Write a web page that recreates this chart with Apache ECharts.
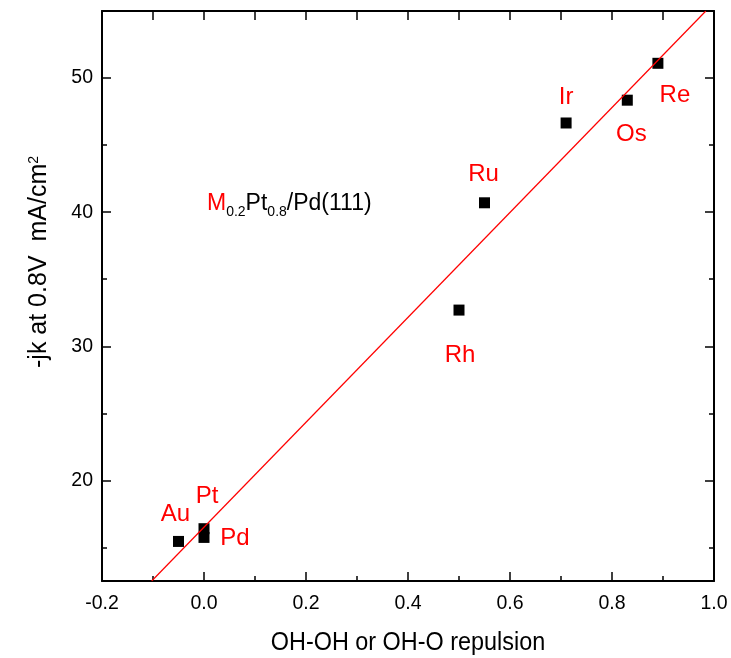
<!DOCTYPE html>
<html><head><meta charset="utf-8">
<script src="https://cdn.jsdelivr.net/npm/echarts@6/dist/echarts.min.js"></script>
<style>html,body{margin:0;padding:0;background:#fff}#c{width:731px;height:658px}</style>
</head><body><div id="c"></div>
<script>
// Data
const metals = ['Au', 'Pt', 'Pd', 'Rh', 'Ru', 'Ir', 'Os', 'Re'];
const repulsion = [-0.05, 0.0, 0.0, 0.50, 0.55, 0.71, 0.83, 0.89];
const currentJk = [15.45, 16.4, 15.75, 32.7, 40.7, 46.65, 48.35, 51.1];
const fitX = [-0.1026, 0.984];
const fitY = [12.5, 55.0];
const yMajorTicks = [20, 30, 40, 50];
const yMinorTicks = [15, 25, 35, 45];

// label placement (style, not data)
const labelOffsets = [[-3,-27],[3,-32],[31,1],[1,45],[-1,-28],[0,-26],[4,34],[17,32]];

const font = '"Liberation Sans",Arial,sans-serif';

const chart = echarts.init(document.getElementById('c'));
const yBase = {type:'value', min:12.5, max:55, splitLine:{show:false}};
const xBase = {type:'value', min:-0.2, max:1.0, splitLine:{show:false}};
const line = {show:true, onZero:false, lineStyle:{color:'#000', width:2}};
const noLine = {show:false, onZero:false};

chart.setOption({
  animation:false,
  backgroundColor:'#fff',
  grid:{left:102, right:17, top:11, bottom:77, containLabel:false},
  xAxis:[
    Object.assign({}, xBase, {position:'bottom', interval:0.2,
      axisLine:line,
      axisTick:{inside:true, length:9, lineStyle:{color:'#000', width:1.5}},
      minorTick:{show:true, splitNumber:2, length:5, lineStyle:{color:'#000', width:1.5}},
      axisLabel:{color:'#000', fontFamily:font, fontSize:19.5, margin:13,
        formatter:v=>v.toFixed(1)}}),
    Object.assign({}, xBase, {position:'top', interval:0.1,
      axisLine:line,
      axisTick:{inside:true, length:9, lineStyle:{color:'#000', width:1.5}},
      axisLabel:{show:false}})
  ],
  yAxis:[
    Object.assign({}, yBase, {position:'left',
      axisLine:line,
      axisTick:{inside:true, length:9, customValues:yMajorTicks, lineStyle:{color:'#000', width:1.5}},
      axisLabel:{color:'#000', fontFamily:font, fontSize:19.5, margin:9, customValues:yMajorTicks}}),
    Object.assign({}, yBase, {position:'left',
      axisLine:noLine,
      axisTick:{inside:true, length:5, customValues:yMinorTicks, lineStyle:{color:'#000', width:1.5}},
      axisLabel:{show:false}}),
    Object.assign({}, yBase, {position:'right',
      axisLine:line,
      axisTick:{inside:true, length:9, customValues:yMajorTicks, lineStyle:{color:'#000', width:1.5}},
      axisLabel:{show:false}}),
    Object.assign({}, yBase, {position:'right',
      axisLine:noLine,
      axisTick:{inside:true, length:5, customValues:yMinorTicks, lineStyle:{color:'#000', width:1.5}},
      axisLabel:{show:false}})
  ],
  graphic:[
    {type:'text', x:408, y:643, scaleX:0.9, style:{text:'OH-OH or OH-O repulsion', fill:'#000',
      font:'26px '+font, textAlign:'center', textVerticalAlign:'middle'}},
    {type:'text', x:41, y:262, rotation:Math.PI/2, style:{
      text:'{a|-jk at 0.8V  mA/cm}{b|2}', fill:'#000', textAlign:'center', textVerticalAlign:'middle',
      rich:{a:{fontSize:25, fontFamily:font, fill:'#000', verticalAlign:'top', lineHeight:28},
            b:{fontSize:14, fontFamily:font, fill:'#000', verticalAlign:'top', lineHeight:28, padding:[0,0,12,0]}}}},
    {type:'text', x:207, y:192, style:{
      text:'{m|M}{s|0.2}{n|Pt}{s|0.8}{n|/Pd(111)}', textAlign:'left', textVerticalAlign:'top',
      rich:{m:{fontSize:23, fontFamily:font, fill:'#ff0000', verticalAlign:'top', lineHeight:25},
            n:{fontSize:23, fontFamily:font, fill:'#000', verticalAlign:'top', lineHeight:25},
            s:{fontSize:14, fontFamily:font, fill:'#000', verticalAlign:'top', lineHeight:16, padding:[13,0,0,0]}}}}
  ],
  series:[
    {type:'line', xAxisIndex:0, yAxisIndex:0, data:fitX.map((x,i)=>[x, fitY[i]]),
      symbol:'none', clip:true, lineStyle:{color:'#ff0000', width:1.2}, silent:true},
    {type:'scatter', xAxisIndex:0, yAxisIndex:0, symbol:'rect', symbolSize:11,
      itemStyle:{color:'#000', opacity:1},
      label:{show:true, position:'inside', formatter:p=>p.name, color:'#ff0000',
        fontFamily:font, fontSize:24},
      data:metals.map((m,i)=>({name:m, value:[repulsion[i], currentJk[i]],
        label:{offset:labelOffsets[i]}}))}
  ]
});
</script></body></html>
